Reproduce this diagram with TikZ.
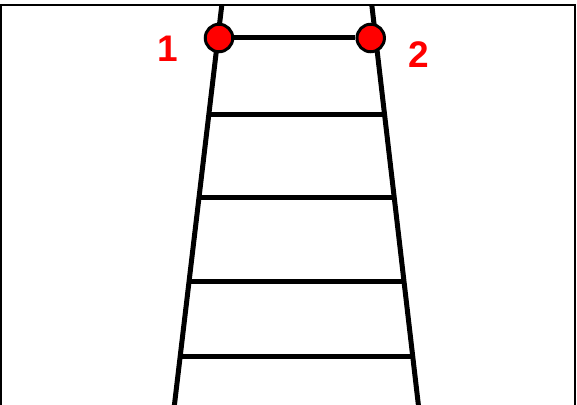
\documentclass[tikz,border=0pt]{standalone}
\usepackage{fontspec}
\setmainfont{Liberation Sans}
\begin{document}
\begin{tikzpicture}[x=1pt,y=-1pt,
  frame/.style={line width=2pt,draw=black},
  rail/.style={line width=5pt,draw=black},
  rung/.style={line width=5pt,draw=black},
  joint/.style={circle,fill=red,draw=black,line width=3pt,minimum size=27.5pt,inner sep=0pt},
  numlabel/.style={text=red,font=\fontsize{37}{37}\selectfont\bfseries,anchor=base,inner sep=0pt}]
\useasboundingbox (0,0) rectangle (577,404);
% frame
\draw[frame] (1,406) -- (1,5) -- (574.5,5) -- (574.5,406);
% rail coordinates
\coordinate (lt) at (221.8,5);
\coordinate (lb) at (174.3,406);
\coordinate (rt) at (371.8,5);
\coordinate (rb) at (418.5,406);
\draw[rail] (lt) -- (lb);
\draw[rail] (rt) -- (rb);
% rungs
\coordinate (l1) at (208.8,114); \coordinate (r1) at (384.5,114);
\coordinate (l2) at (199,197);   \coordinate (r2) at (394.2,197);
\coordinate (l3) at (189,281);   \coordinate (r3) at (404.1,281);
\coordinate (l4) at (180,356);   \coordinate (r4) at (412.9,356);
\draw[rung] (l1) -- (r1);
\draw[rung] (l2) -- (r2);
\draw[rung] (l3) -- (r3);
\draw[rung] (l4) -- (r4);
% joints
\node[joint] (c1) at (219,38) {};
\node[joint] (c2) at (370.7,38) {};
\draw[rung] (c1) -- (c2);
% labels
\node[numlabel] (n1) at (167.5,61) {1};
\node[numlabel] (n2) at (419,67) {2};
\end{tikzpicture}
\end{document}
